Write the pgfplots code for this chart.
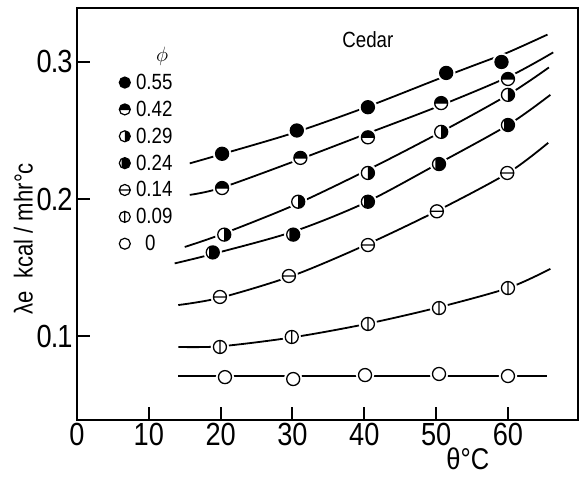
\documentclass[border=0pt]{standalone}
\usepackage{fontspec}
\setmainfont{Liberation Sans}
\newfontfamily\cf[FakeStretch=0.85]{Liberation Sans}
\usepackage{pgfplots}
\pgfplotsset{compat=1.18}

\pgfdeclareplotmark{tophalf}{%
  \pgfpathcircle{\pgfpointorigin}{\pgfplotmarksize}%
  \pgfsetfillcolor{white}\pgfusepath{fill}%
  \pgfpathmoveto{\pgfpoint{\pgfplotmarksize}{0pt}}%
  \pgfpatharc{0}{180}{\pgfplotmarksize}%
  \pgfpathclose
  \pgfsetfillcolor{black}\pgfusepath{fill}%
  \pgfpathcircle{\pgfpointorigin}{\pgfplotmarksize}%
  \pgfpathmoveto{\pgfpoint{-\pgfplotmarksize}{0pt}}\pgfpathlineto{\pgfpoint{\pgfplotmarksize}{0pt}}%
  \pgfusepath{stroke}%
}
\pgfdeclareplotmark{righthalf}{%
  \pgfpathcircle{\pgfpointorigin}{\pgfplotmarksize}%
  \pgfsetfillcolor{white}\pgfusepath{fill}%
  \pgfpathmoveto{\pgfpoint{0pt}{\pgfplotmarksize}}%
  \pgfpatharc{90}{-90}{\pgfplotmarksize}%
  \pgfpathclose
  \pgfsetfillcolor{black}\pgfusepath{fill}%
  \pgfpathcircle{\pgfpointorigin}{\pgfplotmarksize}%
  \pgfusepath{stroke}%
}
\pgfdeclareplotmark{mostfill}{%
  \pgfpathcircle{\pgfpointorigin}{\pgfplotmarksize}%
  \pgfsetfillcolor{white}\pgfusepath{fill}%
  \pgfpathmoveto{\pgfpointpolar{125}{\pgfplotmarksize}}%
  \pgfpatharc{125}{-125}{\pgfplotmarksize}%
  \pgfpathclose
  \pgfsetfillcolor{black}\pgfusepath{fill}%
  \pgfpathcircle{\pgfpointorigin}{\pgfplotmarksize}%
  \pgfusepath{stroke}%
}
\pgfdeclareplotmark{hbar}{%
  \pgfpathcircle{\pgfpointorigin}{\pgfplotmarksize}%
  \pgfsetfillcolor{white}\pgfusepath{fill}%
  \pgfpathcircle{\pgfpointorigin}{\pgfplotmarksize}%
  \pgfpathmoveto{\pgfpoint{-\pgfplotmarksize}{0pt}}\pgfpathlineto{\pgfpoint{\pgfplotmarksize}{0pt}}%
  \pgfusepath{stroke}%
}
\pgfdeclareplotmark{vbar}{%
  \pgfpathcircle{\pgfpointorigin}{\pgfplotmarksize}%
  \pgfsetfillcolor{white}\pgfusepath{fill}%
  \pgfpathcircle{\pgfpointorigin}{\pgfplotmarksize}%
  \pgfpathmoveto{\pgfpoint{0pt}{-\pgfplotmarksize}}\pgfpathlineto{\pgfpoint{0pt}{\pgfplotmarksize}}%
  \pgfusepath{stroke}%
}
\pgfdeclareplotmark{open}{%
  \pgfpathcircle{\pgfpointorigin}{\pgfplotmarksize}%
  \pgfsetfillcolor{white}\pgfusepath{fill}%
  \pgfpathcircle{\pgfpointorigin}{\pgfplotmarksize}%
  \pgfusepath{stroke}%
}
\pgfdeclareplotmark{full}{%
  \pgfpathcircle{\pgfpointorigin}{\pgfplotmarksize}%
  \pgfsetfillcolor{black}\pgfusepath{fill,stroke}%
}

\begin{document}
\begin{tikzpicture}
\begin{axis}[
  at={(0pt,0pt)}, anchor=south west,
  scale only axis, width=501pt, height=412pt,
  xmin=0, xmax=69.75, ymin=0.0387, ymax=0.3394,
  axis line style={line width=2.6pt},
  xtick={0,10,20,30,40,50,60},
  ytick={0.1,0.2,0.3}, yticklabels={0\kern-1pt.\kern-1pt1,0\kern-1pt.\kern-1pt2,0\kern-1pt.\kern-1pt3},
  tick align=inside, xtick pos=bottom, ytick pos=left,
  major tick length=13pt,
  tick style={line width=2pt, black},
  /pgf/number format/assume math mode=true,
  tick label style={font=\cf\fontsize{32}{33}\selectfont},
  yticklabel style={xshift=-1pt},
  xlabel={θ°C},
  ylabel={λe\ \ kcal / mhr°c},
  xlabel style={font=\cf\fontsize{30}{32}\selectfont, at={(axis description cs:0.78,-0.093)}, anchor=center},
  ylabel style={font=\cf\fontsize{26}{28}\selectfont, at={(axis description cs:-0.107,0.44)}, anchor=center},
  legend style={draw=none, fill=none, font=\cf\fontsize{22}{24}\selectfont,
    at={(axis description cs:0.072,0.915)}, anchor=north west, row sep=6pt, column sep=3pt},
  legend cell align=left,
  legend image post style={mark size=5.5pt, line width=1.2pt},
  every axis plot/.append style={black},
  clip=false,
]
% fitted curves
\addplot[smooth, line width=1.8pt, forget plot] coordinates {(15.7,0.226) (20,0.2325) (30,0.248) (40,0.2665) (50,0.287) (55,0.297) (60,0.307) (65.5,0.320)};
\addplot[smooth, line width=1.8pt, forget plot] coordinates {(15.7,0.203) (20,0.208) (30,0.227) (40,0.247) (50,0.267) (60,0.289) (66.3,0.307)};
\addplot[smooth, line width=1.8pt, forget plot] coordinates {(15,0.165) (20,0.174) (30,0.195) (40,0.220) (50,0.247) (60,0.276) (65.7,0.296)};
\addplot[smooth, line width=1.8pt, forget plot] coordinates {(13.6,0.153) (19,0.160) (30,0.176) (40,0.197) (50,0.225) (60,0.254) (65.9,0.276)};
\addplot[smooth, line width=1.8pt, forget plot] coordinates {(14.1,0.1226) (20,0.128) (30,0.144) (40,0.166) (50,0.191) (60,0.219) (65.6,0.241)};
\addplot[smooth, line width=1.8pt, forget plot] coordinates {(14.1,0.092) (20,0.0925) (30,0.0990) (40,0.1085) (50,0.1205) (60,0.135) (65.9,0.149)};
\addplot[line width=1.8pt, forget plot] coordinates {(14.1,0.071) (65.5,0.071)};
% white halos (gaps in curves)
\addplot[only marks, mark=*, mark size=9pt, white, forget plot] coordinates {(20.2,0.233) (30.6,0.250) (40.5,0.267) (51.4,0.292) (59.1,0.300)};
\addplot[only marks, mark=*, mark size=9pt, white, forget plot] coordinates {(20.2,0.208) (31.1,0.230) (40.5,0.245) (50.7,0.270) (60.0,0.2876)};
\addplot[only marks, mark=*, mark size=9pt, white, forget plot] coordinates {(20.5,0.174) (30.8,0.198) (40.5,0.219) (50.7,0.249) (60,0.276)};
\addplot[only marks, mark=*, mark size=9pt, white, forget plot] coordinates {(18.9,0.161) (30.1,0.174) (40.5,0.198) (50.4,0.2255) (60,0.254)};
\addplot[only marks, mark=*, mark size=9pt, white, forget plot] coordinates {(19.9,0.1285) (29.5,0.1438) (40.5,0.1664) (50.1,0.191) (59.9,0.219)};
\addplot[only marks, mark=*, mark size=9pt, white, forget plot] coordinates {(19.9,0.092) (29.9,0.0993) (40.5,0.1088) (50.4,0.1204) (60,0.135)};
\addplot[only marks, mark=*, mark size=9pt, white, forget plot] coordinates {(20.6,0.070) (30.1,0.0686) (40.1,0.0715) (50.4,0.0723) (60,0.0708)};
% legend title
\addlegendimage{empty legend}
\addlegendentry{\hspace{20pt}\raisebox{1pt}{$\phi$}}
% data
\addplot[only marks, mark=full, mark size=6.5pt, line width=1.3pt] coordinates {(20.2,0.233) (30.6,0.250) (40.5,0.267) (51.4,0.292) (59.1,0.300)};
\addlegendentry{0.55}
\addplot[only marks, mark=tophalf, mark size=6.5pt, line width=1.3pt] coordinates {(20.2,0.208) (31.1,0.230) (40.5,0.245) (50.7,0.270) (60.0,0.2876)};
\addlegendentry{0.42}
\addplot[only marks, mark=righthalf, mark size=6.5pt, line width=1.3pt] coordinates {(20.5,0.174) (30.8,0.198) (40.5,0.219) (50.7,0.249) (60,0.276)};
\addlegendentry{0.29}
\addplot[only marks, mark=mostfill, mark size=6.5pt, line width=1.3pt] coordinates {(18.9,0.161) (30.1,0.174) (40.5,0.198) (50.4,0.2255) (60,0.254)};
\addlegendentry{0.24}
\addplot[only marks, mark=hbar, mark size=6.5pt, line width=1.3pt] coordinates {(19.9,0.1285) (29.5,0.1438) (40.5,0.1664) (50.1,0.191) (59.9,0.219)};
\addlegendentry{0.14}
\addplot[only marks, mark=vbar, mark size=6.5pt, line width=1.3pt] coordinates {(19.9,0.092) (29.9,0.0993) (40.5,0.1088) (50.4,0.1204) (60,0.135)};
\addlegendentry{0.09}
\addplot[only marks, mark=open, mark size=6.5pt, line width=1.3pt] coordinates {(20.6,0.070) (30.1,0.0686) (40.1,0.0715) (50.4,0.0723) (60,0.0708)};
\addlegendentry{\hspace{9pt}0}
\node[font=\cf\fontsize{22}{24}\selectfont] at (axis cs:40.5,0.316) {Cedar};
\end{axis}
\pgfresetboundingbox
\path (-77pt,-57pt) rectangle (507pt,420pt);
\end{tikzpicture}
\end{document}
